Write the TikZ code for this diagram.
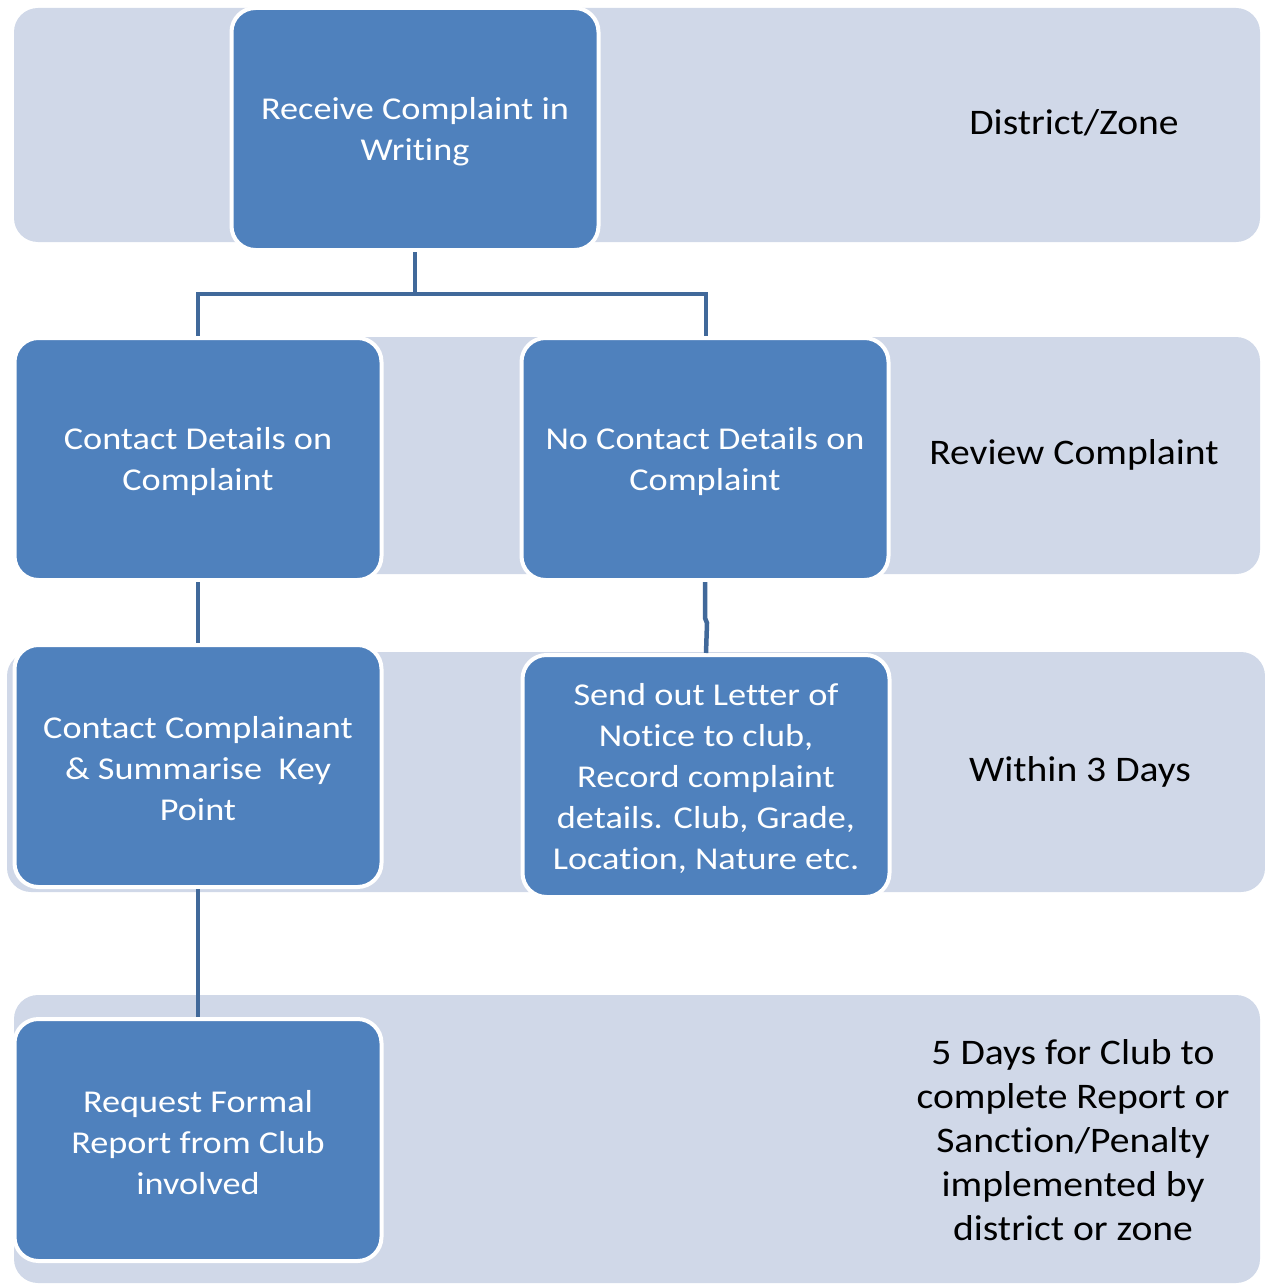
\documentclass[tikz,border=0pt]{standalone}
\usepackage{fontspec}
\setmainfont{Carlito}[Ligatures={NoCommon}]
\newfontfamily\boxfont{Carlito}[FakeStretch=1.14, Ligatures={NoCommon}]
\newfontfamily\sidefont{Carlito}[FakeStretch=1.10, Ligatures={NoCommon}]
\definecolor{bandc}{HTML}{D0D8E8}
\definecolor{boxc}{HTML}{4F81BD}
\definecolor{linec}{HTML}{41699A}
\begin{document}
\begin{tikzpicture}[x=1pt,y=-1pt,
  band/.style={fill=bandc, draw=none, rounded corners=24pt},
  flowbox/.style={rectangle, rounded corners=24pt, fill=boxc, draw=white, line width=4pt,
    minimum width=367pt, minimum height=242pt, inner sep=0pt},
  boxtext/.style={align=center, text=white, font=\boxfont\fontsize{31.8}{41}\selectfont, inner sep=0pt},
  sidelabel/.style={align=center, text=black, font=\sidefont\fontsize{36}{44}\selectfont, inner sep=0pt},
  conn/.style={draw=linec, line width=4.5pt}]
\useasboundingbox (0,0) rectangle (1265,1284);
% bands
\fill[band] (14,8) rectangle (1260,242);
\fill[band] (14,337) rectangle (1260,574);
\fill[band] (7,652) rectangle (1265,892);
\fill[band] (14,995) rectangle (1260,1283);
% boxes
\node[flowbox] (rec) at (415,129) {};
\node[flowbox] (cd) at (198,459) {};
\node[flowbox] (ncd) at (705,459) {};
\node[flowbox] (cc) at (198,766) {};
\node[flowbox] (so) at (706,776) {};
\node[flowbox] (req) at (198,1140) {};
% box texts
\node[boxtext] (trec) at ([yshift=-2.5pt]rec.center) {Receive Complaint in\\Writing};
\node[boxtext] (tcd) at ([yshift=-2.5pt]cd.center) {Contact Details on\\Complaint};
\node[boxtext] (tncd) at ([yshift=-2.5pt]ncd.center) {No Contact Details on\\Complaint};
\node[boxtext] (tcc) at ([yshift=-2.5pt]cc.center) {Contact Complainant\\\&~Summarise~ Key\\Point};
\node[boxtext] (tso) at ([yshift=-2.5pt]so.center) {Send out Letter of\\Notice to club,\\Record complaint\\details. Club, Grade,\\Location, Nature etc.};
\node[boxtext] (treq) at ([yshift=-2.5pt]req.center) {Request Formal\\Report from Club\\involved};
% side labels
\node[sidelabel] (l1) at (1074,123) {District/Zone};
\node[sidelabel] (l2) at (1074,455) {Review Complaint};
\node[sidelabel] (l3) at (1080,772) {Within 3 Days};
\node[sidelabel] (l4) at (1073,1140) {5 Days for Club to\\complete Report or\\Sanction/Penalty\\implemented by\\district or zone};
% connectors
\coordinate (j) at (415,294);
\draw[conn] (rec.south) -- (j);
\draw[conn] (j) -| (cd.north);
\draw[conn] (j) -| (so.north |- ncd.north);
\draw[conn] (cd.south) -- (cc.north);
\coordinate (k1) at (705,618);
\coordinate (k2) at (707,623);
\draw[conn] (ncd.south) -- (k1) -- (k2) -- (so.north);
\draw[conn] (cc.south) -- (req.north);
\end{tikzpicture}
\end{document}
